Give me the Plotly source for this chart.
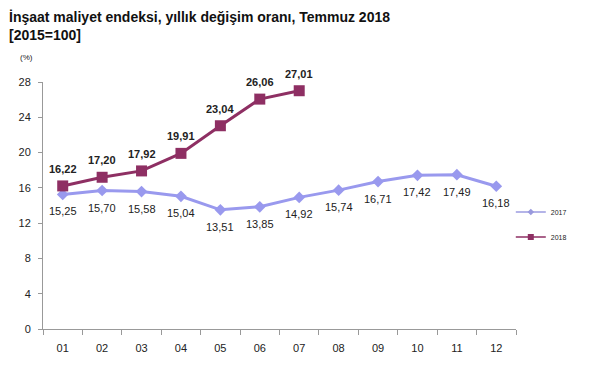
import plotly.graph_objects as go

months = ["01", "02", "03", "04", "05", "06", "07", "08", "09", "10", "11", "12"]
y2017 = [15.25, 15.70, 15.58, 15.04, 13.51, 13.85, 14.92, 15.74, 16.71, 17.42, 17.49, 16.18]
y2018 = [16.22, 17.20, 17.92, 19.91, 23.04, 26.06, 27.01]
lbl2017 = ["15,25", "15,70", "15,58", "15,04", "13,51", "13,85", "14,92", "15,74", "16,71", "17,42", "17,49", "16,18"]
lbl2018 = ["16,22", "17,20", "17,92", "19,91", "23,04", "26,06", "27,01"]
yticks = [0, 4, 8, 12, 16, 20, 24, 28]

FONT = "Liberation Sans, Arial, sans-serif"
C17 = "#9999EE"
C18 = "#8E2F63"

fig = go.Figure()
fig.add_trace(go.Scatter(
    x=months, y=y2017, name="2017", mode="lines+markers", showlegend=False,
    line=dict(color=C17, width=3),
    marker=dict(symbol="diamond", size=9, color=C17),
    cliponaxis=False,
))
fig.add_trace(go.Scatter(
    x=months[:len(y2018)], y=y2018, name="2018", mode="lines+markers", showlegend=False,
    line=dict(color=C18, width=3),
    marker=dict(symbol="square", size=11, color=C18),
    cliponaxis=False,
))
# legend-only entries (smaller symbols, as in the reference legend)
fig.add_trace(go.Scatter(
    x=[None], y=[None], name="2017", mode="lines+markers", legendgroup="a",
    line=dict(color="#B4B4E8", width=2),
    marker=dict(symbol="diamond", size=5, color="#9999DD"),
))
fig.add_trace(go.Scatter(
    x=[None], y=[None], name="2018", mode="lines+markers", legendgroup="b",
    line=dict(color=C18, width=1.5),
    marker=dict(symbol="square", size=6, color=C18),
))

annotations = []
for i, (v, t) in enumerate(zip(y2017, lbl2017)):
    annotations.append(dict(x=i, y=v, text=t, showarrow=False, yshift=-17,
                            font=dict(size=11, family=FONT, color="#222222")))
for i, (v, t) in enumerate(zip(y2018, lbl2018)):
    annotations.append(dict(x=i, y=v, text="<b>%s</b>" % t, showarrow=False, yshift=17,
                            font=dict(size=11, family=FONT, color="#222222")))
annotations += [
    dict(text="<b>İnşaat maliyet endeksi, yıllık değişim oranı, Temmuz 2018<br>[2015=100]</b>",
         xref="paper", yref="paper", x=-0.074, y=1.2976, xanchor="left", yanchor="top",
         align="left", showarrow=False, borderpad=0,
         font=dict(size=14, family=FONT, color="#111111")),
    dict(text="(%)", xref="paper", yref="paper", x=-0.052, y=1.101,
         xanchor="left", yanchor="middle", showarrow=False,
         font=dict(size=8, family=FONT, color="#222222")),
]

fig.update_layout(
    width=600, height=384,
    margin=dict(l=35, r=92, t=74, b=63),
    paper_bgcolor="white", plot_bgcolor="white",
    font=dict(family=FONT, size=11, color="#222222"),
    showlegend=True,
    legend=dict(x=0.989, y=0.532, xanchor="left", yanchor="top",
                font=dict(size=7, family=FONT), itemwidth=30,
                traceorder="grouped", tracegroupgap=6, bgcolor="rgba(0,0,0,0)"),
    xaxis=dict(
        categoryorder="array", categoryarray=months,
        showline=True, linecolor="#999999", linewidth=1,
        ticks="outside", tickcolor="#999999", ticklen=5,
        tickson="boundaries", showgrid=False, zeroline=False,
        ticklabelstandoff=9,
        tickfont=dict(size=11, family=FONT), range=[-0.5, 11.5],
    ),
    yaxis=dict(
        range=[0, 28], tickvals=yticks,
        showline=True, linecolor="#999999", linewidth=1,
        ticks="outside", tickcolor="#999999", ticklen=4,
        ticklabelstandoff=5,
        showgrid=False, zeroline=False,
        tickfont=dict(size=11, family=FONT),
    ),
    annotations=annotations,
)

fig.write_html("out.html")
